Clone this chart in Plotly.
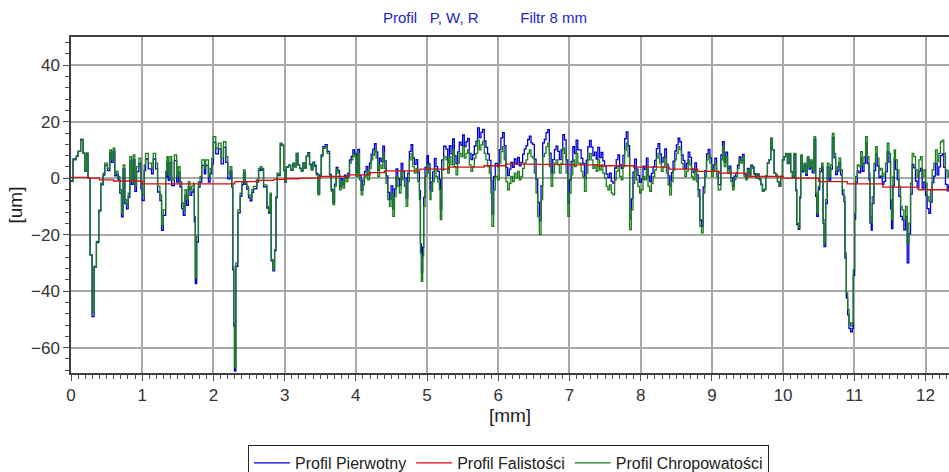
import plotly.graph_objects as go

# ---------------- data ----------------
# sample positions [mm] and values [um], split in four segments
x_a = [0.000, 0.028, 0.075, 0.099, 0.136, 0.169, 0.192, 0.216, 0.239, 0.268,
       0.296, 0.324, 0.357, 0.390, 0.418, 0.451, 0.474, 0.512, 0.545, 0.568,
       0.592, 0.615, 0.638, 0.662, 0.685, 0.709, 0.732, 0.756, 0.779, 0.803,
       0.826, 0.850, 0.873, 0.897, 0.920, 0.953, 0.981, 1.000, 1.028, 1.047,
       1.085, 1.131, 1.155, 1.188, 1.216, 1.249, 1.272, 1.296, 1.329, 1.347,
       1.366, 1.390, 1.413, 1.451, 1.484, 1.507, 1.531, 1.554, 1.577, 1.601,
       1.624, 1.648, 1.671, 1.695, 1.718, 1.732, 1.746, 1.765, 1.789, 1.812,
       1.836, 1.873, 1.892, 1.930, 1.953, 1.977, 2.000, 2.033, 2.070, 2.108,
       2.141, 2.174, 2.202, 2.235, 2.258, 2.272, 2.286, 2.296, 2.315, 2.343,
       2.376, 2.399, 2.423, 2.446, 2.469, 2.493, 2.516, 2.540, 2.563, 2.610,
       2.634, 2.657, 2.681, 2.704, 2.728, 2.751, 2.775, 2.798, 2.812, 2.836,
       2.859, 2.878, 2.897, 2.915, 2.939, 2.962, 2.986]
r_a = [-1.2, 6.5, 7.6, 9.4, 13.5, 8.8, 2.4, 8.8, 0.0, -27.1,
       -47.6, -31.2, -22.4, -11.2, -1.8, 1.8, 5.3, 3.5, 10.0, 6.5,
       10.6, 1.8, 2.4, 0.6, -4.1, -12.4, 4.7, -7.6, -9.4, -5.3,
       7.6, -0.6, 8.2, -2.9, 4.1, 7.1, -1.8, -5.9, 4.7, 8.8,
       5.3, 3.5, 8.8, 5.3, -2.9, -5.9, -16.5, -11.2, 2.4, 7.6,
       1.2, 7.6, -0.6, 8.2, 0.6, 4.1, -1.2, -8.8, -11.2, -4.1,
       -7.6, -1.2, -4.1, -2.9, -1.8, -13.5, -35.3, -20.6, -1.2, 0.6,
       6.5, 3.5, 6.5, 0.6, 3.5, 7.1, 14.7, 10.6, 12.4, 7.1,
       12.9, 7.6, 1.8, 4.1, -1.8, -31.2, -51.2, -67.1, -30.0, -11.2,
       -5.3, -1.2, 2.9, -1.2, -2.9, -5.9, -7.1, -4.1, -2.9, -0.6,
       3.5, 4.1, 3.5, -2.4, -2.4, -10.0, -11.8, -5.3, -28.8, -32.4,
       -25.3, -6.5, 1.8, 1.2, 12.4, 11.8, 2.9]
p_a = [-0.9, 6.8, 7.9, 9.6, 13.7, 8.9, 2.5, 8.9, 0.0, -27.2,
       -49.0, -31.5, -22.8, -11.7, -2.4, 1.1, 4.6, 2.7, 9.1, 5.6,
       9.6, 0.8, 1.3, -0.5, -5.3, -13.7, 3.3, -9.0, -10.9, -6.8,
       6.0, -2.2, 6.5, -4.7, 2.3, 5.2, -3.8, -7.9, 2.7, 6.8,
       3.3, 1.5, 6.8, 3.3, -4.9, -7.9, -18.5, -13.2, 0.4, 5.6,
       -0.8, 5.6, -2.6, 6.2, -1.4, 2.1, -3.2, -10.8, -13.2, -6.1,
       -9.6, -3.2, -6.1, -4.9, -3.8, -15.5, -37.3, -22.6, -3.2, -1.4,
       4.5, 1.5, 4.5, -1.4, 1.5, 5.1, 12.7, 8.6, 10.4, 5.1,
       10.9, 5.6, -0.2, 2.6, -3.2, -32.5, -52.4, -68.3, -31.2, -12.3,
       -6.4, -2.3, 1.9, -2.2, -3.9, -6.9, -8.0, -5.0, -3.8, -1.4,
       2.7, 3.3, 2.8, -3.1, -3.0, -10.6, -12.4, -5.8, -29.3, -32.8,
       -25.7, -6.9, 1.5, 0.9, 12.1, 11.5, 2.7]

x_b = [3.000, 3.023, 3.056, 3.084, 3.117, 3.140, 3.164, 3.187, 3.210, 3.234,
       3.257, 3.280, 3.304, 3.327, 3.350, 3.374, 3.397, 3.421, 3.444, 3.467,
       3.491, 3.514, 3.537, 3.570, 3.598, 3.631, 3.654, 3.678, 3.701, 3.724,
       3.748, 3.771, 3.794, 3.818, 3.841, 3.864, 3.888, 3.911, 3.935, 3.958,
       3.981, 4.005, 4.028, 4.051, 4.075, 4.098, 4.121, 4.145, 4.168, 4.192,
       4.215, 4.238, 4.262, 4.285, 4.308, 4.332, 4.355, 4.379, 4.402, 4.425,
       4.449, 4.472, 4.495, 4.519, 4.542, 4.565, 4.589, 4.612, 4.636, 4.659,
       4.682, 4.706, 4.729, 4.752, 4.776, 4.799, 4.822, 4.846, 4.869, 4.893,
       4.907, 4.921, 4.939, 4.953, 4.972, 5.000, 5.019, 5.042, 5.056, 5.079,
       5.103, 5.126, 5.150, 5.173, 5.187, 5.206, 5.234, 5.266, 5.290, 5.313,
       5.336, 5.360, 5.383, 5.407, 5.430, 5.453, 5.477, 5.500, 5.523, 5.547,
       5.570, 5.593, 5.617, 5.640, 5.664, 5.687, 5.710, 5.734, 5.757, 5.780,
       5.804, 5.827, 5.850, 5.874, 5.897, 5.911, 5.935, 5.958, 5.991, 6.014,
       6.037, 6.061, 6.084]
r_b = [-1.2, 4.1, 4.7, 2.9, 5.3, 4.1, 8.8, 4.7, 3.5, 2.4,
       5.3, 3.5, 7.6, 8.8, 4.7, 2.9, 5.3, 4.1, 1.2, -5.9,
       0.6, 7.6, 10.6, 11.2, 8.8, 0.6, -4.7, -9.4, -2.9, 2.9,
       1.8, -4.1, -1.2, -3.5, 0.0, -1.2, 0.6, 5.3, 6.5, 8.8,
       7.6, 0.6, 8.8, -0.6, -5.9, -2.4, 0.6, 2.4, -0.6, 3.5,
       6.5, 8.2, 10.0, 7.1, 0.6, 4.7, 3.5, 8.8, 3.5, -1.8,
       -7.6, -10.0, -5.3, -13.5, -6.5, 0.6, -2.9, -5.3, 2.4, -0.6,
       -2.9, -10.0, -1.2, 6.5, 8.8, 4.1, 1.8, 3.5, -1.2, -7.6,
       -26.5, -36.5, -27.6, -10.0, 0.6, 4.7, 1.8, -7.6, -4.7, -1.2,
       3.5, 0.6, -1.2, -4.1, -14.7, 2.9, 7.6, 6.5, 1.8, 7.6,
       4.7, 10.0, 4.1, 1.2, 5.3, 8.8, 7.6, 11.2, 7.1, 8.8,
       10.0, 4.7, 2.4, 4.1, 7.1, 8.8, 13.5, 10.0, 11.8, 12.9,
       8.8, 6.5, 4.1, 1.8, -5.3, -17.1, -4.1, 0.6, -0.6, 5.3,
       9.4, 11.2, 6.5]
p_b = [-1.4, 3.9, 4.5, 2.8, 5.2, 4.0, 8.8, 4.7, 3.5, 2.5,
       5.4, 3.7, 7.8, 9.0, 5.0, 3.2, 5.7, 4.5, 1.7, -5.3,
       1.2, 8.2, 11.2, 11.9, 9.5, 1.3, -4.0, -8.6, -2.1, 3.8,
       2.7, -3.1, -0.2, -2.4, 1.1, -0.1, 1.8, 6.5, 7.7, 10.0,
       8.8, 2.0, 10.2, 0.9, -4.3, -0.7, 2.4, 4.2, 1.3, 5.4,
       8.5, 10.3, 12.2, 9.3, 2.9, 7.1, 5.9, 11.3, 6.1, 0.8,
       -5.0, -7.4, -2.7, -10.9, -3.8, 3.3, -0.2, -2.5, 5.2, 2.3,
       0.0, -7.0, 1.8, 9.5, 11.9, 7.2, 4.9, 6.6, 2.0, -4.4,
       -23.3, -33.3, -24.4, -6.8, 3.8, 8.0, 5.1, -4.2, -1.3, 2.2,
       7.0, 4.1, 2.4, -0.5, -11.1, 6.5, 11.3, 10.3, 5.6, 11.5,
       8.6, 13.9, 8.0, 5.1, 9.3, 12.8, 11.6, 15.3, 11.2, 12.9,
       14.1, 8.8, 6.6, 8.3, 11.4, 13.1, 17.8, 14.4, 16.2, 17.3,
       13.2, 10.9, 8.6, 6.3, -0.8, -12.6, 0.5, 5.2, 4.1, 10.1,
       14.3, 16.1, 11.5]

x_c = [6.108, 6.131, 6.155, 6.178, 6.202, 6.225, 6.249, 6.272, 6.296, 6.319,
       6.343, 6.366, 6.390, 6.413, 6.437, 6.460, 6.484, 6.507, 6.531, 6.554,
       6.577, 6.601, 6.624, 6.648, 6.671, 6.695, 6.718, 6.742, 6.765, 6.789,
       6.812, 6.836, 6.859, 6.883, 6.906, 6.930, 6.953, 6.977, 7.000, 7.023,
       7.047, 7.070, 7.094, 7.117, 7.141, 7.164, 7.188, 7.211, 7.235, 7.258,
       7.282, 7.305, 7.329, 7.352, 7.376, 7.399, 7.423, 7.446, 7.469, 7.493,
       7.516, 7.540, 7.563, 7.587, 7.610, 7.634, 7.657, 7.681, 7.704, 7.728,
       7.751, 7.775, 7.798, 7.822, 7.845, 7.869, 7.892, 7.915, 7.939, 7.962,
       7.986, 8.009, 8.033, 8.056, 8.080, 8.103, 8.127, 8.150, 8.174, 8.197,
       8.221, 8.244, 8.268, 8.291, 8.315, 8.338, 8.362, 8.385, 8.408, 8.432,
       8.455, 8.479, 8.502, 8.526, 8.549, 8.573, 8.596, 8.620, 8.643, 8.667,
       8.690, 8.714, 8.737, 8.761, 8.784, 8.808, 8.831, 8.854, 8.878, 8.901,
       8.925, 8.948, 8.972, 8.995, 9.019, 9.042, 9.066, 9.089]
r_c = [-1.2, -4.1, -1.8, 0.6, -1.2, 1.8, 0.0, 2.4, -0.6, 0.6,
       3.5, 5.3, 6.5, 8.8, 10.0, 7.6, 7.1, 1.8, -5.3, -13.5,
       -20.0, -7.6, 7.6, 8.8, 11.2, 12.4, 4.1, -2.9, 1.8, 5.3,
       6.5, 4.7, 1.8, 5.3, 10.6, 8.8, 1.8, -13.5, -5.3, 1.2,
       6.5, 4.1, 8.8, 5.3, 5.3, 2.4, 0.6, -4.7, 1.8, 6.5,
       8.8, 6.5, 3.5, 4.7, 2.4, 6.5, 2.9, 4.7, 1.8, 0.0,
       -2.9, -4.1, -2.4, -5.3, -5.9, -0.6, 2.4, 4.1, 0.6, -0.6,
       4.1, 10.0, 12.4, 7.6, -18.2, -11.2, -1.8, 2.9, -0.6, -2.9,
       -5.3, -4.1, 0.6, -0.6, 3.5, -2.9, -4.7, -1.8, 0.6, 2.9,
       7.1, 8.8, 5.3, 2.4, 4.1, 7.1, 1.8, -2.4, -5.9, -1.2,
       2.9, 6.5, 8.8, 11.2, 10.0, 5.3, 3.5, 0.6, 2.4, 6.5,
       4.7, 0.6, -0.6, 2.9, -1.2, -6.5, -17.1, -19.4, -5.3, 0.6,
       6.5, 8.2, 5.3, 0.6, 2.9, 5.3, 0.6, -4.1]
p_c = [3.8, 0.9, 3.2, 5.6, 3.8, 6.8, 5.0, 7.4, 4.4, 5.6,
       8.5, 10.3, 11.5, 13.7, 14.9, 12.5, 12.0, 6.7, -0.4, -8.6,
       -15.1, -2.7, 12.5, 13.7, 16.1, 17.2, 8.9, 1.9, 6.6, 10.1,
       11.3, 9.5, 6.6, 10.1, 15.4, 13.6, 6.5, -8.8, -0.6, 5.9,
       11.2, 8.8, 13.5, 10.0, 10.0, 7.0, 5.2, -0.1, 6.4, 11.1,
       13.4, 11.0, 8.0, 9.2, 6.8, 10.9, 7.3, 9.1, 6.1, 4.3,
       1.4, 0.2, 1.8, -1.1, -1.7, 3.6, 6.6, 8.2, 4.7, 3.5,
       8.1, 14.0, 16.4, 11.5, -14.3, -7.3, 2.1, 6.7, 3.2, 0.9,
       -1.5, -0.3, 4.3, 3.1, 7.1, 0.7, -1.2, 1.7, 4.1, 6.3,
       10.5, 12.2, 8.6, 5.7, 7.4, 10.4, 5.0, 0.8, -2.7, 2.0,
       6.0, 9.6, 11.8, 14.2, 12.9, 8.2, 6.3, 3.4, 5.2, 9.2,
       7.4, 3.2, 2.0, 5.4, 1.2, -4.1, -14.8, -17.1, -3.1, 2.7,
       8.6, 10.2, 7.2, 2.5, 4.7, 7.1, 2.4, -2.3]

x_d = [9.103, 9.126, 9.150, 9.173, 9.196, 9.220, 9.243, 9.266, 9.290, 9.313,
       9.336, 9.360, 9.383, 9.407, 9.430, 9.453, 9.477, 9.500, 9.523, 9.547,
       9.570, 9.593, 9.617, 9.640, 9.664, 9.687, 9.710, 9.734, 9.757, 9.780,
       9.804, 9.827, 9.850, 9.874, 9.897, 9.921, 9.944, 9.967, 9.991, 10.014,
       10.037, 10.061, 10.084, 10.107, 10.131, 10.154, 10.178, 10.192, 10.215, 10.234,
       10.248, 10.271, 10.294, 10.318, 10.341, 10.364, 10.388, 10.411, 10.435, 10.458,
       10.472, 10.495, 10.514, 10.542, 10.561, 10.575, 10.598, 10.621, 10.645, 10.668,
       10.692, 10.715, 10.738, 10.762, 10.785, 10.808, 10.832, 10.855, 10.869, 10.888,
       10.907, 10.925, 10.949, 10.972, 10.986, 11.005, 11.019, 11.042, 11.065, 11.089,
       11.112, 11.136, 11.159, 11.182, 11.206, 11.220, 11.238, 11.252, 11.276, 11.299,
       11.322, 11.346, 11.369, 11.393, 11.416, 11.439, 11.463, 11.486, 11.509, 11.523,
       11.542, 11.561, 11.579, 11.603, 11.626, 11.650, 11.673, 11.696, 11.720, 11.743,
       11.766, 11.790, 11.813, 11.836, 11.860, 11.883, 11.907, 11.930, 11.953, 11.977,
       12.000, 12.023, 12.047, 12.070, 12.093, 12.117, 12.140, 12.164, 12.187, 12.210,
       12.234, 12.257, 12.280, 12.304, 12.327]
r_d = [-4.1, 6.5, 11.2, 4.1, 7.6, 1.8, 2.9, -1.2, -4.1, -0.6,
       0.6, 3.5, 6.5, 5.3, 7.6, 0.6, -0.6, 2.9, 0.6, 4.1,
       3.5, 1.2, 0.0, 1.2, -0.6, -2.4, -4.7, -4.1, 0.6, 5.3,
       6.5, 14.1, 10.0, 1.8, 1.2, -1.2, -2.9, 0.6, 6.5, 7.6,
       8.8, 5.3, 8.8, 2.4, 0.6, 8.8, -4.1, -15.9, -17.6, -6.5,
       8.2, 2.9, 5.3, 1.8, 7.6, 4.1, 6.5, 2.9, 14.7, -5.3,
       -12.4, -2.9, 3.5, 5.3, -14.7, -22.9, -7.6, 5.3, 0.6, 4.7,
       15.9, 8.8, 2.9, 4.1, 7.1, 2.9, -4.1, -6.5, -26.5, -40.6,
       -46.5, -51.2, -52.4, -51.2, -32.4, -12.4, 0.6, 4.7, 4.1, 9.4,
       4.7, 7.6, 14.7, 7.6, 1.8, -13.5, -15.9, -6.5, 5.3, 11.2,
       7.1, 2.9, 3.5, 0.6, 1.8, 5.3, 12.4, 8.8, -7.6, -14.7,
       0.6, 10.0, 6.5, 2.9, -2.9, -10.0, -11.2, -14.7, -10.0, -22.9,
       -15.9, -1.8, 8.8, 7.6, 2.9, 0.6, 6.5, 7.6, 0.6, 2.9,
       -1.8, -6.5, -8.2, -4.1, 2.9, 5.3, 10.0, 5.9, 8.8, 12.9,
       13.5, 8.8, 2.9, 0.6, 2.9]
p_d = [-2.3, 8.2, 12.9, 5.7, 9.2, 3.3, 4.3, 0.2, -2.8, 0.7,
       1.8, 4.6, 7.5, 6.2, 8.4, 1.4, 0.1, 3.5, 1.2, 4.6,
       4.0, 1.6, 0.4, 1.5, -0.3, -2.1, -4.5, -3.9, 0.8, 5.4,
       6.6, 14.2, 10.1, 1.8, 1.2, -1.2, -2.9, 0.6, 6.5, 7.6,
       8.7, 5.2, 8.6, 2.2, 0.3, 8.4, -4.5, -16.4, -18.1, -7.1,
       7.6, 2.2, 4.6, 1.0, 6.8, 3.2, 5.6, 1.9, 13.7, -6.4,
       -13.5, -4.1, 2.3, 4.0, -16.0, -24.2, -9.0, 3.9, -0.8, 3.2,
       14.4, 7.2, 1.3, 2.5, 5.4, 1.2, -5.8, -8.3, -28.3, -42.5,
       -48.4, -53.2, -54.4, -53.2, -34.4, -14.5, -1.5, 2.6, 1.9, 7.2,
       2.4, 5.3, 12.4, 5.2, -0.6, -15.9, -18.4, -9.0, 2.7, 8.6,
       4.4, 0.2, 0.7, -2.2, -1.1, 2.3, 9.4, 5.7, -10.8, -17.9,
       -2.7, 6.7, 3.1, -0.5, -6.4, -13.5, -14.8, -18.3, -13.6, -30.0,
       -19.7, -5.6, 4.9, 3.7, -1.0, -3.4, 2.5, 3.5, -3.5, -1.3,
       -6.0, -10.8, -12.5, -8.5, -1.6, 0.7, 5.3, 1.2, 4.0, 8.0,
       8.6, 3.8, -2.2, -4.5, -2.2]

# waviness profile (red)
x_w = [0, 0.25, 0.4, 0.6, 1.0, 1.5, 2.2, 2.3, 2.6, 2.85, 3.0, 3.2, 3.5, 3.9,
       4.2, 4.4, 4.9, 5.3, 5.8, 6.1, 6.5, 7.0, 7.4, 7.9, 8.4, 8.8, 9.1, 9.5,
       10.0, 10.5, 10.9, 11.4, 11.9, 12.34]
w_vals = [0.3, 0.0, -0.6, -1.0, -2.0, -2.0, -2.0, -1.2, -0.8, -0.4, -0.2, 0.0,
          0.6, 1.2, 2.0, 2.6, 3.2, 3.9, 4.4, 5.0, 4.9, 4.7, 4.4, 3.9, 3.2, 2.4,
          1.8, 0.6, 0.0, -1.2, -2.0, -3.2, -4.1, -5.1]

x_vals = x_a + x_b + x_c + x_d
p_vals = p_a + p_b + p_c + p_d
r_vals = r_a + r_b + r_c + r_d

x_ticks = list(range(0, 13))
y_ticks = [-60, -40, -20, 0, 20, 40]

names = ["Profil Pierwotny", "Profil Falistości", "Profil Chropowatości"]

FONT = "Liberation Sans, Arial, sans-serif"
NB = "\u00a0"

fig = go.Figure()
fig.add_trace(go.Scatter(x=x_vals, y=p_vals, mode="lines", name=names[0],
                         line=dict(color="#0000d0", width=1.3, shape="hv"),
                         legendrank=1))
fig.add_trace(go.Scatter(x=x_vals, y=r_vals, mode="lines", name=names[2],
                         line=dict(color="#1a7f1a", width=1.3, shape="hv"),
                         legendrank=3))
fig.add_trace(go.Scatter(x=x_w, y=w_vals, mode="lines", name=names[1],
                         line=dict(color="#d01010", width=1.3, shape="hv"),
                         legendrank=2))

axis_common = dict(
    showline=True, linecolor="#404040", linewidth=1.5,
    showgrid=True, gridcolor="#a8a8a8", gridwidth=1.5,
    zeroline=False,
    ticks="outside", ticklen=6, tickcolor="#505050", tickwidth=1,
    tickfont=dict(family=FONT, size=17, color="#333333"),
)

fig.update_layout(
    width=949, height=472,
    margin=dict(l=71, r=0, t=37, b=99, autoexpand=False),
    paper_bgcolor="white", plot_bgcolor="white",
    font=dict(family=FONT, color="#222222"),
    title=dict(
        text="Profil" + NB * 3 + "P, W, R" + NB * 10 + "Filtr 8 mm",
        x=485 / 949, xanchor="center", xref="container",
        y=1 - 18 / 472, yanchor="middle", yref="container",
        font=dict(family=FONT, size=15, color="#2424c8"),
    ),
    xaxis=dict(
        range=[0, 12.33], tickmode="array", tickvals=x_ticks,
        title=dict(text="[mm]", font=dict(family=FONT, size=19, color="#222222"),
                   standoff=5),
        mirror=True,
        minor=dict(dtick=0.1, tick0=0, ticks="outside", ticklen=4,
                   tickcolor="#505050", showgrid=False),
        **axis_common,
    ),
    yaxis=dict(
        range=[-69, 50], tickmode="array", tickvals=y_ticks,
        title=dict(text="[um]", font=dict(family=FONT, size=19, color="#222222"),
                   standoff=3),
        minor=dict(dtick=4, tick0=0, ticks="outside", ticklen=4,
                   tickcolor="#505050", showgrid=False),
        **axis_common,
    ),
    showlegend=True,
    legend=dict(
        orientation="h", x=(248 - 71) / 878, xanchor="left",
        y=(373 - 445) / 336, yanchor="top",
        bordercolor="#222222", borderwidth=1, bgcolor="white",
        font=dict(family=FONT, size=16, color="#222222"),
        itemwidth=36,
        traceorder="normal",
    ),
)

fig.write_html("out.html")
